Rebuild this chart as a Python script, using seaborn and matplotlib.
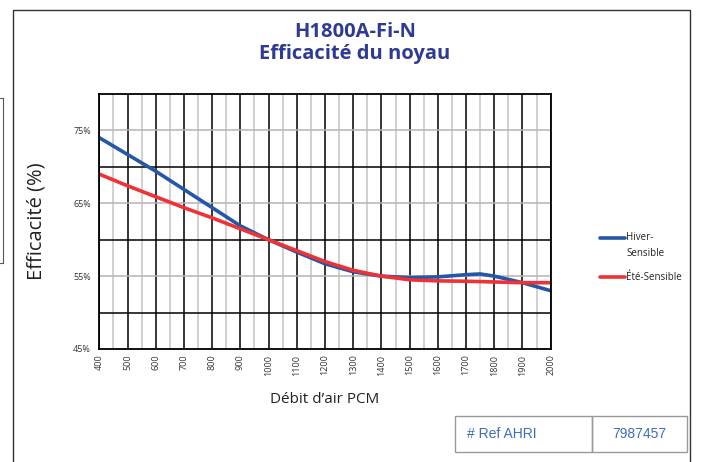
import matplotlib
matplotlib.use("Agg")
import matplotlib.pyplot as plt
import seaborn as sns
import pandas as pd
from matplotlib.patches import Rectangle
from matplotlib.ticker import FixedLocator

# ---- data ----
airflow = [400, 500, 600, 700, 800, 900, 1000, 1100, 1200, 1300, 1400, 1500, 1600, 1700, 1750, 1800, 1900, 2000]
hiver = [74.0, 71.7, 69.4, 66.9, 64.4, 61.9, 60.0, 58.3, 56.7, 55.6, 55.0, 54.8, 54.9, 55.2, 55.3, 55.0, 54.1, 53.0]
ete = [69.0, 67.4, 65.9, 64.4, 63.0, 61.5, 60.0, 58.5, 57.0, 55.8, 55.0, 54.5, 54.35, 54.3, 54.25, 54.2, 54.1, 54.1]
series_names = ["Hiver-\nSensible", "Été-Sensible"]
series_colors = ["#2457A7", "#EE3236"]
ytick_major = [45, 55, 65, 75]
ytick_minor = [50, 60, 70]
xtick_major = list(range(400, 2001, 100))
xtick_minor = list(range(450, 2000, 100))
title_text = "H1800A-Fi-N\nEfficacité du noyau"
ref_label = "# Ref AHRI"
ref_value = "7987457"

df = pd.DataFrame({
    "airflow": airflow * 2,
    "eff": hiver + ete,
    "serie": [series_names[0]] * len(airflow) + [series_names[1]] * len(airflow),
})

sns.set_style("white")
plt.rcParams['font.family'] = ['Open Sans', 'DejaVu Sans']

fig = plt.figure(figsize=(7.03, 4.62), dpi=100)
W, H = 703, 462
ax = fig.add_axes([99.3 / W, 1 - 349 / H, (550.7 - 99.3) / W, (349 - 94) / H])

sns.lineplot(data=df, x="airflow", y="eff", hue="serie", palette=series_colors,
             linewidth=2.6, ax=ax, legend=False, sort=False)

ax.set_xlim(400, 2000)
ax.set_ylim(45, 80)
ax.xaxis.set_major_locator(FixedLocator(xtick_major))
ax.xaxis.set_minor_locator(FixedLocator(xtick_minor))
ax.yaxis.set_major_locator(FixedLocator(ytick_major))
ax.yaxis.set_minor_locator(FixedLocator(ytick_minor))
ax.set_xticklabels([str(v) for v in xtick_major], rotation=90, fontsize=6.5, color="#333333")
ax.set_yticklabels([f"{v}%" for v in ytick_major], fontsize=6.5, color="#333333")
ax.tick_params(which="both", length=0)
ax.tick_params(axis="x", pad=4)
ax.tick_params(axis="y", pad=6)

ax.grid(False)
ax.grid(True, axis="x", which="major", color="black", linewidth=1.1, zorder=0)
ax.grid(True, axis="x", which="minor", color="#c4c4c4", linewidth=1.1, zorder=0)
ax.grid(True, axis="y", which="major", color="#b4b4b4", linewidth=1.1, zorder=0)
ax.grid(True, axis="y", which="minor", color="black", linewidth=1.1, zorder=0)
ax.set_axisbelow(True)
for s in ax.spines.values():
    s.set_visible(True)
    s.set_color("black")
    s.set_linewidth(1.3)

ax.set_xlabel("Débit d’air PCM", fontsize=11, color="#222222", labelpad=12)
ax.set_ylabel("Efficacité (%)", fontsize=14.5, color="#222222")
ax.yaxis.set_label_coords(-0.117, 0.5)

fig.text(355 / W, 1 - 43 / H, title_text, ha="center", va="center", fontsize=14.5,
         fontweight="bold", color="#2E3B94", linespacing=1.15)

# legend (manual)
leg_y = [238, 277]
for name, col, yy in zip(series_names, series_colors, leg_y):
    fig.add_artist(plt.Line2D([600 / W, 625 / W], [1 - yy / H, 1 - yy / H], color=col,
                              linewidth=2.6, transform=fig.transFigure))
    if "\n" in name:
        fig.text(626 / W, 1 - (yy - 6) / H, name, ha="left", va="top", fontsize=7,
                 color="#222222", linespacing=1.6)
    else:
        fig.text(626 / W, 1 - yy / H, name, ha="left", va="center", fontsize=7, color="#222222")

# outer frame
fig.add_artist(plt.Line2D([13 / W, 13 / W, 690 / W, 690 / W], [0, 1 - 10 / H, 1 - 10 / H, 0],
                          color="#333333", linewidth=1.0, transform=fig.transFigure))
# partial left box
fig.add_artist(plt.Line2D([0, 3 / W, 3 / W, 0], [1 - 98 / H, 1 - 98 / H, 1 - 263 / H, 1 - 263 / H],
                          color="#555555", linewidth=0.8, transform=fig.transFigure))

# reference table
fig.add_artist(Rectangle((455 / W, 1 - 452 / H), (592 - 455) / W, 36 / H, transform=fig.transFigure,
                         fill=False, edgecolor="#999999", linewidth=1.0))
fig.add_artist(Rectangle((592 / W, 1 - 452 / H), (687 - 592) / W, 36 / H, transform=fig.transFigure,
                         fill=False, edgecolor="#999999", linewidth=1.0))
fig.text(467 / W, 1 - 434 / H, ref_label, ha="left", va="center", fontsize=10,
         color="#3B6DBE", family="Liberation Sans")
fig.text(639 / W, 1 - 434 / H, ref_value, ha="center", va="center", fontsize=10,
         color="#3B6DBE", family="Liberation Sans")

fig.savefig("out.png", dpi=100)
